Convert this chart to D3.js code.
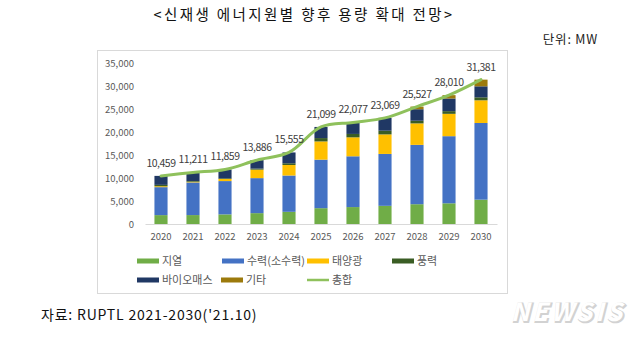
<!DOCTYPE html>
<html>
<head>
<meta charset="utf-8">
<script src="https://cdn.jsdelivr.net/npm/d3@7"></script>
<style>
  body { margin: 0; background: #fff; }
  text { font-family: "Noto Sans CJK KR", "Noto Sans", sans-serif; }
</style>
</head>
<body>
<div id="container"></div>
<script>
/* DATA */
const years = ["2020", "2021", "2022", "2023", "2024", "2025", "2026", "2027", "2028", "2029", "2030"];
const seriesNames = ["지열", "수력(소수력)", "태양광", "풍력", "바이오매스", "기타"];
const geothermal = [1930, 1940, 2090, 2360, 2650, 3440, 3680, 3950, 4300, 4500, 5290];
const hydro = [6080, 7100, 7240, 7610, 7890, 10550, 11040, 11280, 12900, 14590, 16670];
const solar = [200, 150, 450, 1850, 2290, 3960, 4120, 4250, 4670, 4860, 4930];
const wind = [300, 150, 150, 220, 370, 730, 740, 800, 580, 580, 650];
const bio = [1949, 1871, 1929, 1846, 2355, 2419, 2497, 2789, 2497, 2750, 2391];
const other = [0, 0, 0, 0, 0, 0, 0, 0, 580, 730, 1450];
const totals = [10459, 11211, 11859, 13886, 15555, 21099, 22077, 23069, 25527, 28010, 31381];
const yTicks = [0, 5000, 10000, 15000, 20000, 25000, 30000, 35000];
const totalName = "총합";

/* CONSTANTS */
const width = 643, height = 340;
const colors = ["#70ad47", "#4472c4", "#ffc000", "#3a5d24", "#203864", "#9c7a0c"];
const lineColor = "#8fc15c";

const rows = years.map((yr, i) => ({
  year: yr,
  "지열": geothermal[i],
  "수력(소수력)": hydro[i],
  "태양광": solar[i],
  "풍력": wind[i],
  "바이오매스": bio[i],
  "기타": other[i],
  total: totals[i]
}));

const svg = d3.select("#container")
  .append("svg")
  .attr("width", width)
  .attr("height", height);

// title + unit
svg.append("text")
  .attr("x", 304).attr("y", 20)
  .attr("text-anchor", "middle")
  .attr("font-size", 14.5)
  .attr("letter-spacing", 2.4)
  .attr("fill", "#111")
  .text("<신재생 에너지원별 향후 용량 확대 전망>");

svg.append("text")
  .attr("x", 598).attr("y", 44)
  .attr("text-anchor", "end")
  .attr("font-size", 12.5)
  .attr("letter-spacing", 0.8)
  .attr("fill", "#222")
  .text("단위: MW");

// chart frame
svg.append("rect")
  .attr("x", 97.5).attr("y", 50.5)
  .attr("width", 410).attr("height", 243)
  .attr("fill", "none")
  .attr("stroke", "#d9d9d9");

const x = d3.scaleBand()
  .domain(years)
  .range([145, 497])
  .paddingInner(0.59)
  .paddingOuter(0.295);

const y = d3.scaleLinear()
  .domain([0, 35000])
  .range([224, 63]);

// y axis
const yAxis = svg.append("g")
  .attr("transform", "translate(134,0)")
  .call(d3.axisLeft(y).tickValues(yTicks).tickSize(0).tickPadding(0).tickFormat(d3.format(",")));
yAxis.select(".domain").remove();
yAxis.selectAll("text")
  .attr("font-size", 9.5)
  .attr("fill", "#595959");

// x axis
const xAxis = svg.append("g")
  .attr("transform", `translate(0,${y(0)})`)
  .call(d3.axisBottom(x).tickSize(0).tickPadding(9));
xAxis.select(".domain").attr("stroke", "#d9d9d9");
xAxis.selectAll("text")
  .attr("font-size", 9.5)
  .attr("fill", "#595959");

// stacked bars
const stack = d3.stack().keys(seriesNames)(rows);

svg.append("g")
  .selectAll("g")
  .data(stack)
  .join("g")
  .attr("fill", (d, i) => colors[i])
  .selectAll("rect")
  .data(d => d)
  .join("rect")
  .attr("x", d => x(d.data.year))
  .attr("width", x.bandwidth())
  .attr("y", d => y(d[1]))
  .attr("height", d => y(d[0]) - y(d[1]));

// total line
const line = d3.line()
  .x(d => x(d.year) + x.bandwidth() / 2)
  .y(d => y(d.total))
  .curve(d3.curveCatmullRom.alpha(0.5));

svg.append("path")
  .datum(rows)
  .attr("d", line)
  .attr("fill", "none")
  .attr("stroke", lineColor)
  .attr("stroke-width", 3)
  .attr("stroke-linecap", "round");

svg.append("g")
  .selectAll("text")
  .data(rows)
  .join("text")
  .attr("x", d => x(d.year) + x.bandwidth() / 2)
  .attr("y", d => y(d.total) - 9)
  .attr("text-anchor", "middle")
  .attr("font-size", 10.5)
  .attr("letter-spacing", -0.5)
  .attr("fill", "#404040")
  .text(d => d3.format(",")(d.total));

// legend
const legendItems = seriesNames.map((name, i) => ({ name, color: colors[i], type: "bar" }))
  .concat([{ name: totalName, color: lineColor, type: "line" }]);
const legendPos = [[137, 261], [222, 261], [307, 261], [392, 261], [137, 280], [221, 280], [307, 280]];

const legend = svg.append("g")
  .selectAll("g")
  .data(legendItems)
  .join("g")
  .attr("transform", (d, i) => `translate(${legendPos[i][0]},${legendPos[i][1]})`);

legend.filter(d => d.type === "bar")
  .append("rect")
  .attr("x", 0).attr("y", -2.5)
  .attr("width", 22).attr("height", 5)
  .attr("fill", d => d.color);

legend.filter(d => d.type === "line")
  .append("line")
  .attr("x1", 0).attr("x2", 22)
  .attr("stroke", d => d.color)
  .attr("stroke-width", 2.5);

legend.append("text")
  .attr("x", 25).attr("y", 4)
  .attr("font-size", 11)
  .attr("fill", "#595959")
  .text(d => d.name);

// source
svg.append("text")
  .attr("x", 41).attr("y", 320)
  .attr("font-size", 14)
  .attr("letter-spacing", 0.8)
  .attr("fill", "#111")
  .text("자료: RUPTL 2021-2030('21.10)");

// watermark
const mark = svg.append("g").attr("font-family", "DejaVu Sans")
  .attr("font-size", 25)
  .attr("font-weight", "bold")
  .attr("font-style", "italic")
  .attr("text-anchor", "end")
  .attr("letter-spacing", 3);
mark.append("text")
  .attr("x", 626).attr("y", 321.5)
  .attr("fill", "#d2d2d2")
  .attr("stroke", "#d2d2d2")
  .attr("stroke-width", 2)
  .text("NEWSIS");
mark.append("text")
  .attr("x", 625).attr("y", 320.5)
  .attr("fill", "#ffffff")
  .text("NEWSIS");
</script>
</body>
</html>
